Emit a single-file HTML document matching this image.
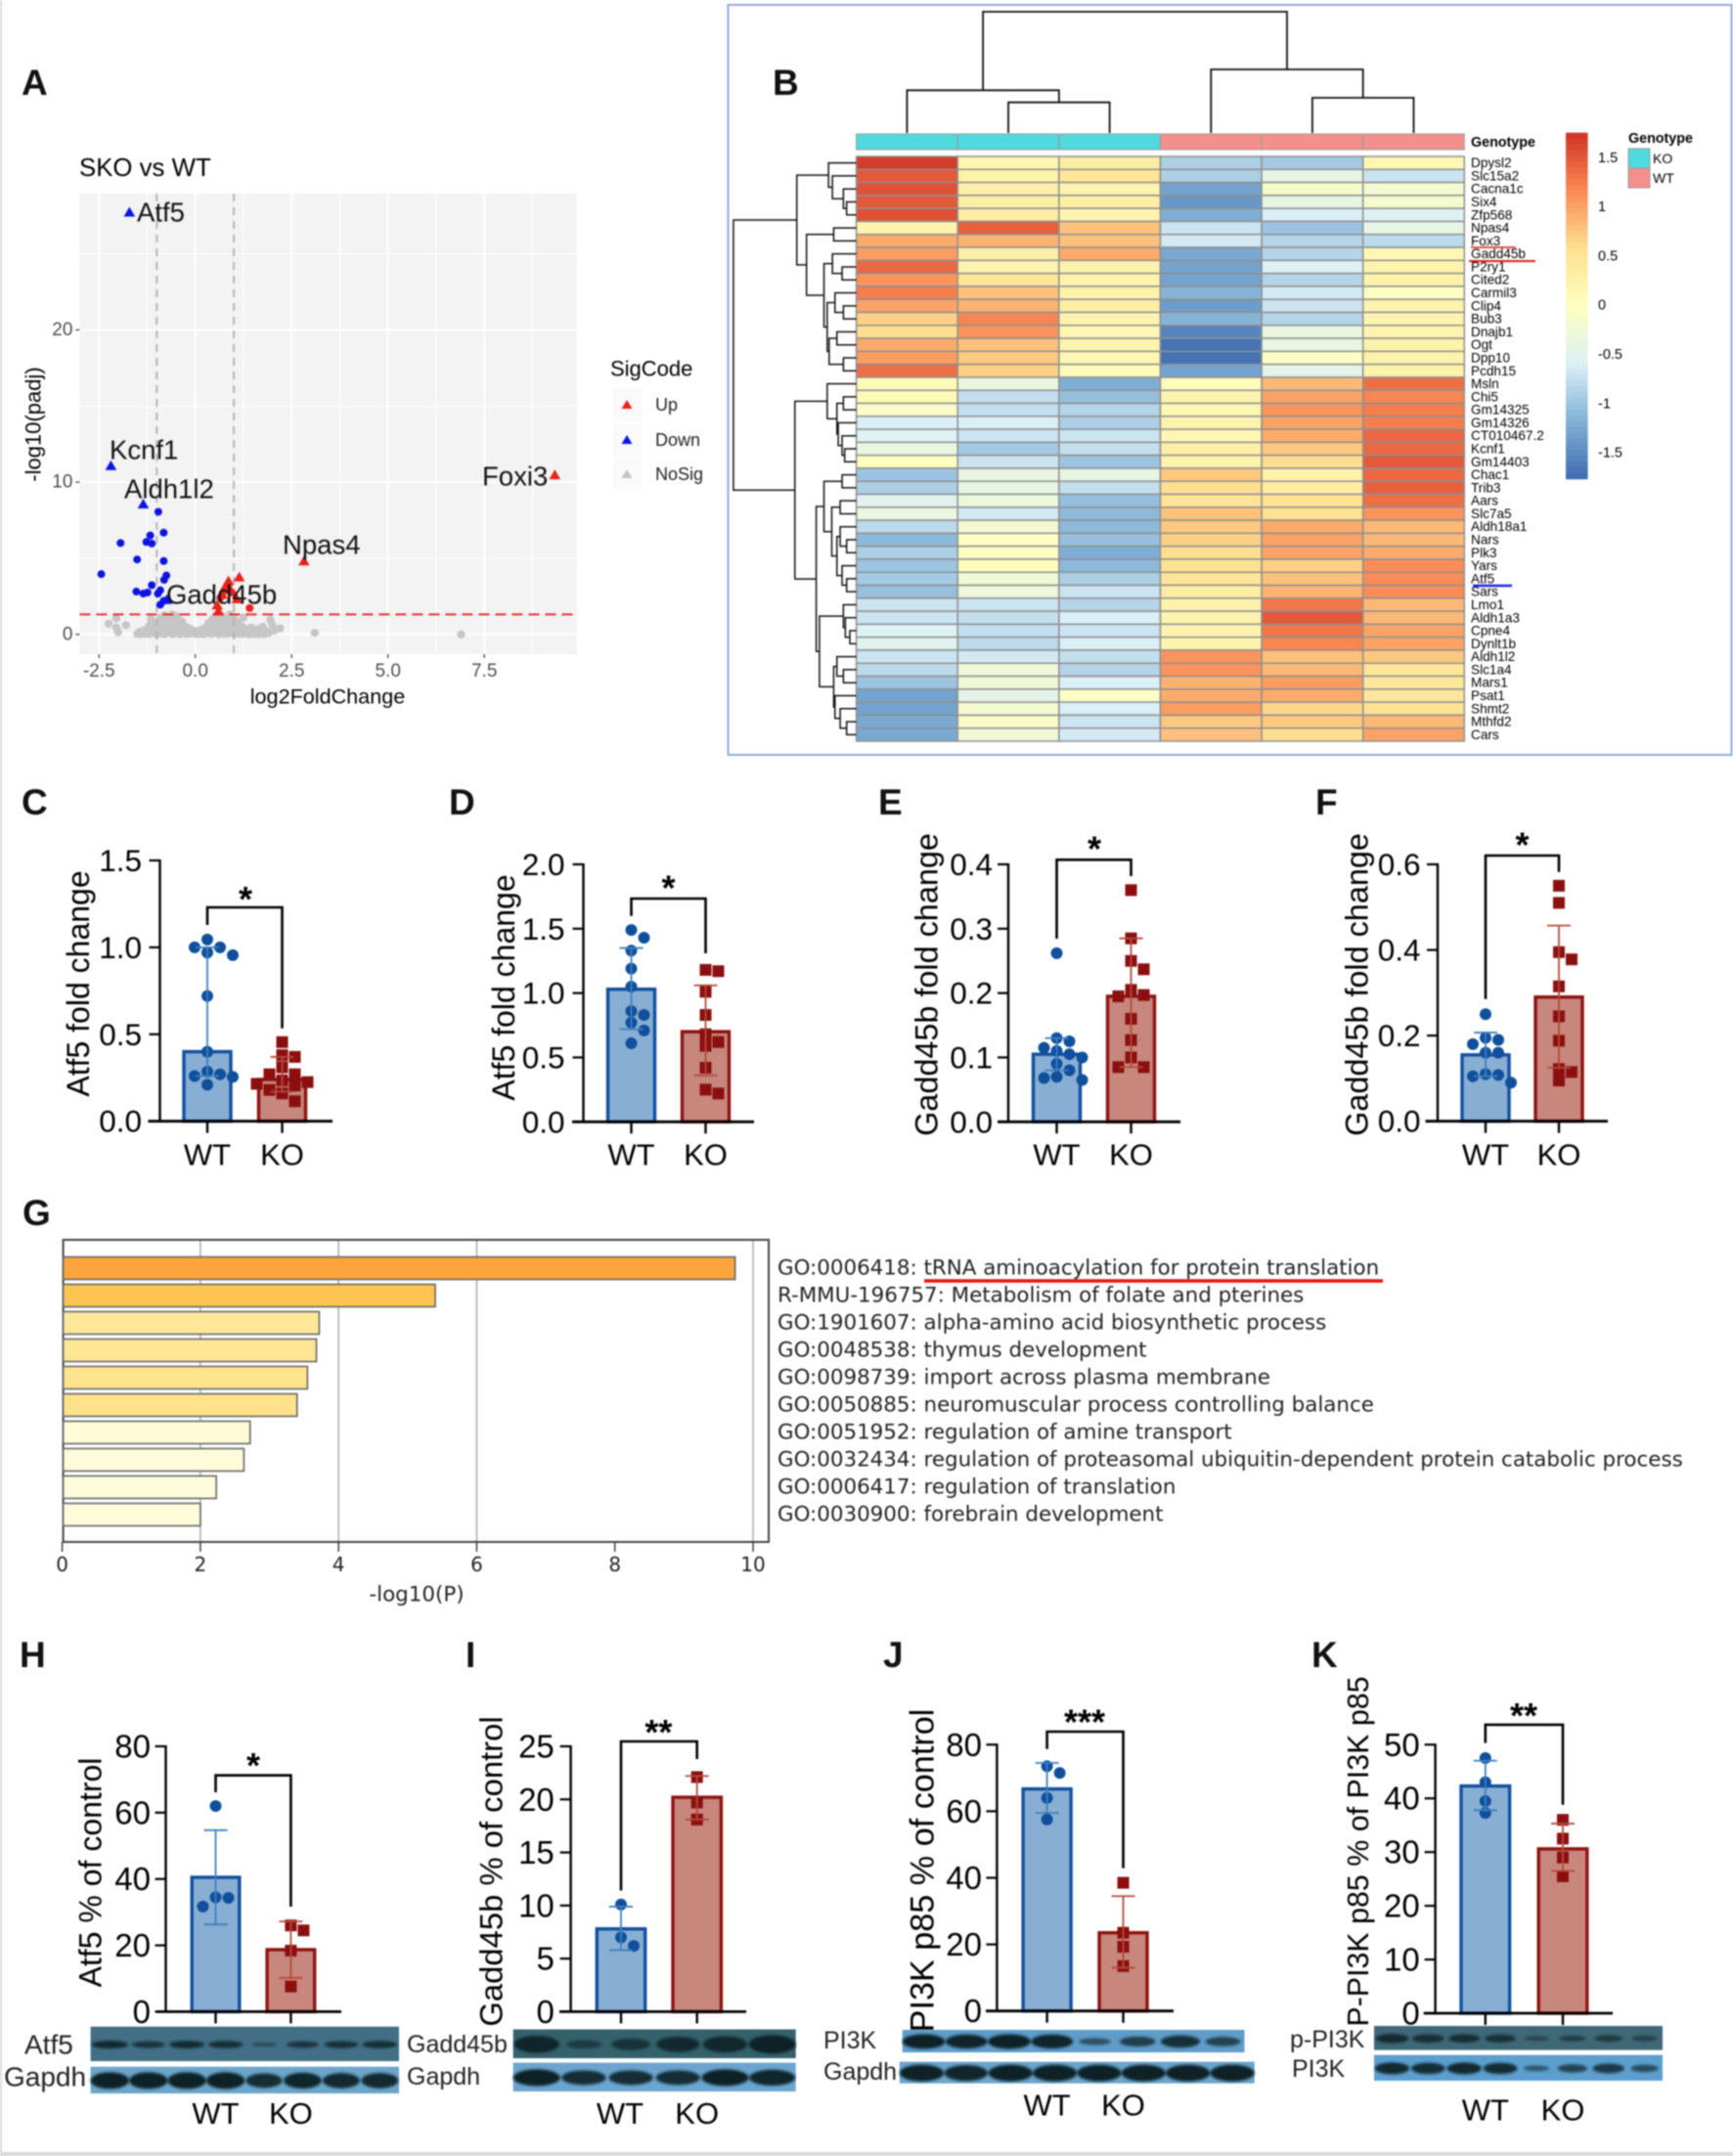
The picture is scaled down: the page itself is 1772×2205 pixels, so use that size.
<!DOCTYPE html>
<html lang="en">
<head>
<meta charset="utf-8">
<title>Atf5 Gadd45b PI3K figure</title>
<style>
html,body{margin:0;padding:0;background:#fff;}
svg{display:block;filter:blur(.7px);}
text{font-family:"Liberation Sans",Arial,sans-serif;fill:#000;}
.letter{font-size:37px;font-weight:700;fill:#111;}
.cat{font-size:31px;text-anchor:middle;dominant-baseline:central;}
.blot{font-size:25px;dominant-baseline:central;fill:#222;}
.gene{font-size:27.5px;dominant-baseline:central;fill:#111;}
.leg{font-size:18px;dominant-baseline:central;fill:#222;}
.go{font-family:"DejaVu Sans",sans-serif;font-size:21.4px;dominant-baseline:central;fill:#222;}
.gotick{font-family:"DejaVu Sans",sans-serif;font-size:20px;text-anchor:middle;dominant-baseline:central;fill:#222;}
</style>
</head>
<body>
<svg id="fig" xmlns="http://www.w3.org/2000/svg" width="1772" height="2205" viewBox="0 0 1772 2205">
<defs><filter id="soft" x="-20%" y="-60%" width="140%" height="220%"><feGaussianBlur stdDeviation="1.4"/></filter></defs>
<rect width="1772" height="2205" fill="#fff"/>
<rect x="0" y="0" width="2" height="2205" fill="#d9d9d9"/>
<rect x="0" y="2201" width="1772" height="4" fill="#d9d9d9"/>

<text class="letter" x="22" y="97">A</text>
<text class="letter" x="790" y="97">B</text>
<text class="letter" x="22" y="833">C</text>
<text class="letter" x="459" y="833">D</text>
<text class="letter" x="898" y="833">E</text>
<text class="letter" x="1345" y="833">F</text>
<text class="letter" x="23" y="1253">G</text>
<text class="letter" x="20" y="1705">H</text>
<text class="letter" x="476" y="1705">I</text>
<text class="letter" x="903" y="1705">J</text>
<text class="letter" x="1341" y="1705">K</text>

<g id="volcano"></g>
<g>
<text x="81" y="172" font-size="25.8" dominant-baseline="central" fill="#111">SKO vs WT</text>
<text class="gene" x="140" y="217">Atf5</text>
<text class="gene" x="112" y="460">Kcnf1</text>
<text class="gene" x="127" y="500">Aldh1l2</text>
<text class="gene" x="493" y="487">Foxi3</text>
<text class="gene" x="289" y="557">Npas4</text>
<text class="gene" x="170" y="608">Gadd45b</text>
<text x="335" y="712" font-size="21.6" text-anchor="middle" dominant-baseline="central" fill="#222">log2FoldChange</text>
<text x="34" y="434" font-size="22" text-anchor="middle" dominant-baseline="central" fill="#222" transform="rotate(-90 34 434)">-log10(padj)</text>
<text x="624" y="377" font-size="22" dominant-baseline="central" fill="#222">SigCode</text>
<rect x="627" y="397" width="30" height="34" fill="#fafafa"/>
<rect x="627" y="433" width="30" height="34" fill="#fafafa"/>
<rect x="627" y="468" width="30" height="34" fill="#fafafa"/>
<polygon points="641,409 646.5,418 635.5,418" fill="#e8231a"/>
<polygon points="641,445 646.5,454 635.5,454" fill="#0d14e0"/>
<polygon points="641,480 646.5,489 635.5,489" fill="#c4c4c4"/>
<text class="leg" x="670" y="414">Up</text>
<text class="leg" x="670" y="450">Down</text>
<text class="leg" x="670" y="485">NoSig</text>
</g>

<rect x="744.5" y="5" width="1026" height="767" fill="none" stroke="#8fa9dc" stroke-width="2"/>
<g id="heatmap"></g>
<g>
<text x="1504" y="146" font-size="14.3" font-weight="700" dominant-baseline="central">Genotype</text>
<text x="1665" y="142" font-size="14.3" font-weight="700" dominant-baseline="central">Genotype</text>
<rect x="1665" y="152" width="22" height="20" fill="#50d9de" stroke="#999"/>
<rect x="1665" y="172" width="22" height="20" fill="#f58f8c" stroke="#999"/>
<text x="1690" y="162" font-size="14" dominant-baseline="central">KO</text>
<text x="1690" y="182" font-size="14" dominant-baseline="central">WT</text>
<line x1="1504" y1="253" x2="1550" y2="253" stroke="#e01a10" stroke-width="1.6"/>
<line x1="1502" y1="267" x2="1570" y2="267" stroke="#e01a10" stroke-width="2"/>
<line x1="1506" y1="599" x2="1546" y2="599" stroke="#1a22e0" stroke-width="2.4"/>
</g>

<g id="bars"></g>
<g id="enrich"></g>
<g id="blots"></g>
<g>
<text class="blot" x="25" y="2091" style="font-size:28px">Atf5</text>
<text class="blot" x="4" y="2124" style="font-size:28px">Gapdh</text>
<text class="cat" x="220.5" y="2161.5">WT</text>
<text class="cat" x="297.4" y="2161.5">KO</text>
<text class="blot" x="416" y="2091">Gadd45b</text>
<text class="blot" x="416" y="2124">Gapdh</text>
<text class="cat" x="634" y="2161.5">WT</text>
<text class="cat" x="712.7" y="2161.5">KO</text>
<text class="blot" x="842" y="2087">PI3K</text>
<text class="blot" x="842" y="2119">Gapdh</text>
<text class="cat" x="1070.6" y="2153">WT</text>
<text class="cat" x="1148.5" y="2153">KO</text>
<text class="blot" x="1319" y="2086">p-PI3K</text>
<text class="blot" x="1321" y="2116">PI3K</text>
<text class="cat" x="1518.8" y="2158">WT</text>
<text class="cat" x="1598" y="2158">KO</text>
</g>
</svg>

<script>
/* ---------- Panel A data ---------- */
const volcanoXTicks = [-2.5, 0, 2.5, 5, 7.5];
const volcanoXTickLabels = ['-2.5', '0.0', '2.5', '5.0', '7.5'];
const volcanoYTicks = [0, 10, 20];
const volcanoYTickLabels = ['0', '10', '20'];
const greyX = [-2.25,-2.05,-2.05,-2.0,-1.8,-1.5,-1.45,-1.4,-1.35,-1.3,-1.25,-1.2,-1.2,-1.15,-1.1,-1.1,-1.05,-1.0,-1.0,-0.95,-0.95,-0.9,-0.9,-0.85,-0.85,-0.8,-0.8,-0.75,-0.75,-0.7,-0.7,-0.65,-0.65,-0.6,-0.6,-0.55,-0.55,-0.5,-0.5,-0.45,-0.45,-0.4,-0.4,-0.35,-0.35,-0.3,-0.3,-0.25,-0.25,-0.2,-0.15,-0.15,-0.1,-0.05,0,0,0.05,0.1,0.1,0.15,0.2,0.2,0.25,0.3,0.3,0.35,0.35,0.4,0.4,0.45,0.45,0.5,0.5,0.55,0.55,0.6,0.6,0.65,0.7,0.7,0.75,0.75,0.8,0.85,0.85,0.9,0.9,0.95,1.0,1.0,1.05,1.05,1.1,1.15,1.15,1.2,1.25,1.25,1.3,1.35,1.4,1.45,1.5,1.6,1.7,1.75,1.85,1.95,2.0,2.05,2.2,3.1,6.9,-1.5,-1.4,-1.2,-1.0,-0.8,-0.6,-0.4,-0.2,0.02,0.22,0.42,0.62,0.82,1.02,1.22,1.42,1.55,1.65,1.8,-1.3,-1.1,-0.9,-0.7,-0.5,-0.3,0.32,0.52,0.72,0.92,1.12,1.32,1.5,1.62,1.72,1.9];
const greyY = [0.7,1.05,0.45,0.15,0.6,0.05,0.15,0.1,0.25,0.05,0.3,0.1,0.55,1.0,0.2,0.45,0.05,0.35,0.75,0.15,0.55,1.1,0.05,0.3,0.8,0.5,1.25,0.1,0.7,0.3,1.05,0.55,0.15,0.85,1.3,0.4,0.05,0.7,1.2,0.25,1.0,0.5,0.1,0.85,0.3,0.15,0.6,0.35,0.05,0.45,0.2,0.05,0.3,0.1,0.2,0.05,0.1,0.25,0.05,0.15,0.05,0.35,0.2,0.5,0.1,0.3,0.75,0.05,0.5,0.2,1.0,0.7,0.35,0.1,1.25,0.5,0.9,0.25,1.2,0.7,0.05,0.4,0.95,0.2,0.6,1.3,0.1,0.75,0.35,1.05,0.15,0.55,0.8,0.3,0.05,0.55,0.15,1.1,0.35,0.05,0.2,0.45,0.1,0.3,0.1,0.5,0.2,0.95,0.6,0.25,0.4,0.1,0,0.02,0.03,0.02,0.04,0.02,0.03,0.02,0.04,0.03,0.02,0.03,0.02,0.04,0.02,0.03,0.02,0.03,0.02,0.02,0.22,0.25,0.2,0.22,0.2,0.25,0.22,0.2,0.25,0.22,0.25,0.2,0.3,0.35,0.3,0.1];
const downCircleX = [-0.96,-0.82,-1.17,-1.94,-1.27,-1.13,-1.51,-0.82,-2.44,-0.75,-0.81,-1.13,-0.91,-1.53,-1.35,-1.24,-0.97,-0.82,-0.91];
const downCircleY = [8.05,6.68,6.5,6.0,6.07,5.97,4.92,4.82,3.96,3.87,3.58,3.23,2.9,2.81,2.68,2.75,2.68,2.2,1.95];
const downTriangleX = [-1.71,-2.19,-1.35,-0.74];
const downTriangleY = [27.7,11.05,8.53,2.25];
const upTriangleX = [9.33,2.82,1.14,0.86,0.8,0.7,0.57,1.08,0.6,0.9];
const upTriangleY = [10.45,4.79,3.74,3.48,3.2,2.6,1.89,2.3,1.5,2.95];
const upCircleX = [1.41,0.75,0.65,0.85,0.95];
const upCircleY = [1.73,2.85,2.4,3.1,2.75];

/* ---------- Panel B data ---------- */
const heatmapGenes = ['Dpysl2','Slc15a2','Cacna1c','Six4','Zfp568','Npas4','Fox3','Gadd45b','P2ry1','Cited2','Carmil3','Clip4','Bub3','Dnajb1','Ogt','Dpp10','Pcdh15','Msln','Chi5','Gm14325','Gm14326','CT010467.2','Kcnf1','Gm14403','Chac1','Trib3','Aars','Slc7a5','Aldh18a1','Nars','Plk3','Yars','Atf5','Sars','Lmo1','Aldh1a3','Cpne4','Dynlt1b','Aldh1l2','Slc1a4','Mars1','Psat1','Shmt2','Mthfd2','Cars'];
const heatmapGenotypes = ['KO','KO','KO','WT','WT','WT'];
const heatmapValues = [
[1.7,0.15,0.35,-0.9,-0.95,0.15],[1.5,0.25,0.5,-0.9,-0.4,-0.7],[1.55,0.3,0.2,-1.3,-0.15,-0.2],[1.5,0.3,0.3,-1.4,-0.4,-0.15],[1.55,0.35,0.2,-1.2,-0.6,-0.55],
[0.2,1.45,0.8,-0.7,-1.0,-0.4],[0.95,0.9,0.8,-0.65,-0.85,-0.8],[1.05,0.3,0.95,-1.25,-0.85,0.15],[1.4,0.2,0.2,-1.3,-0.55,0.2],[1.1,0.5,0.2,-1.3,-0.85,0.25],
[1.25,0.8,0.25,-1.15,-0.65,-0.05],[1.0,0.9,0.3,-1.35,-0.7,0.2],[0.7,1.2,0.2,-1.15,-0.85,0.2],[0.6,1.1,0.15,-1.55,-0.35,0.2],[0.95,0.8,0.2,-1.7,-0.35,0.25],[1.05,0.75,0.15,-1.7,-0.05,0.25],[1.35,0.7,0.05,-1.3,-0.45,0.25],
[0.1,-0.35,-1.2,0.05,0.85,1.35],[0.1,-0.75,-1.05,0.2,1.0,1.2],[-0.1,-0.75,-0.85,0.15,1.1,1.25],[-0.6,-0.6,-0.9,0.2,1.0,1.25],[-0.55,-0.7,-0.7,0.15,0.95,1.4],[-0.35,-0.95,-0.75,0.3,0.75,1.4],[0,-0.7,-1.0,0.25,0.6,1.5],
[-1.0,-0.4,-0.4,0.75,0.25,1.4],[-0.9,-0.4,-0.75,0.6,0.35,1.45],[-0.5,-0.3,-1.05,0.5,0.55,1.35],[-0.35,-0.65,-1.1,0.8,0.55,1.1],[-0.8,-0.2,-1.1,0.75,0.95,0.85],[-1.1,-0.05,-1.05,0.7,1.0,0.85],[-0.9,-0.05,-1.2,0.6,1.0,0.95],[-1.0,0.05,-1.1,0.55,0.7,1.15],[-0.95,-0.25,-0.9,0.5,0.8,1.15],[-1.05,-0.3,-0.7,0.35,0.9,1.15],
[-0.7,-0.7,-0.85,0.25,1.3,0.85],[-0.7,-0.75,-0.6,0.2,1.5,0.85],[-0.55,-0.75,-0.7,0.2,1.3,1.0],[-0.5,-0.8,-0.6,0.2,1.2,1.0],[-0.7,-0.65,-0.75,1.1,0.8,0.75],[-0.8,-0.25,-0.85,1.1,0.85,0.5],[-1.0,-0.25,-0.6,0.9,1.05,0.45],[-1.3,-0.45,-0.05,0.95,0.95,0.45],[-1.3,-0.2,-0.6,1.05,0.65,0.55],[-1.25,-0.1,-0.7,0.75,0.75,0.85],[-1.25,-0.25,-0.65,0.8,0.6,1.0]
];
const colorbarTicks = [1.5,1,0.5,0,-0.5,-1,-1.5];
const colorbarTickLabels = ['1.5','1','0.5','0','-0.5','-1','-1.5'];
/* merge trees: [merge distance, child, child], leaves are row / column indices */
const rowTree = [190,
  [92,[43,0,[37,1,[20,2,[15,3,4]]]],
      [77,[35,5,6],[50,[37,7,[22,8,9]],[45,[33,10,[20,11,12]],[42,[30,13,14],[20,15,16]]]]]],
  [95,[45,17,[30,[20,18,19],[28,20,[22,21,[18,22,23]]]]],
      [62,[50,[22,24,25],[38,[25,26,27],[30,[25,28,[15,29,30]],[22,31,[15,32,33]]]]],
          [57,[20,34,[17,35,[10,36,37]]],[35,[30,38,[20,39,40]],[33,41,[25,42,[15,43,44]]]]]]]];
const columnTree = [372,[131,0,[94,1,2]],[195,3,[108,4,5]]];

/* ---------- Bar panel data ---------- */
const barCategories = ['WT','KO'];
const cTicks=[0,0.5,1,1.5];
const cTickLabels=['0.0','0.5','1.0','1.5'];
const cWtValues=[1.045,1.0,1.0,0.97,0.955,0.72,0.4,0.285,0.27,0.26,0.255,0.21];
const cKoValues=[0.455,0.38,0.37,0.31,0.27,0.27,0.235,0.225,0.215,0.205,0.18,0.16,0.115];
const cMeans=[0.4,0.24];
const cErrHigh=[1.0,0.37];
const cErrLow=[0.26,0.17];

const dTicks=[0,0.5,1,1.5,2];
const dTickLabels=['0.0','0.5','1.0','1.5','2.0'];
const dWtValues=[1.49,1.43,1.33,1.19,1.05,0.86,0.83,0.77,0.71,0.61];
const dKoValues=[1.18,1.17,1.01,0.83,0.68,0.62,0.59,0.42,0.25,0.22];
const dMeans=[1.03,0.7];
const dErrHigh=[1.35,1.06];
const dErrLow=[0.72,0.36];

const eTicks=[0,0.1,0.2,0.3,0.4];
const eTickLabels=['0.0','0.1','0.2','0.3','0.4'];
const eWtValues=[0.262,0.13,0.125,0.115,0.11,0.105,0.1,0.09,0.08,0.07,0.068,0.065];
const eKoValues=[0.36,0.285,0.25,0.237,0.205,0.197,0.195,0.16,0.127,0.1,0.085,0.085];
const eMeans=[0.105,0.195];
const eErrHigh=[0.13,0.285];
const eErrLow=[0.08,0.085];

const fTicks=[0,0.2,0.4,0.6];
const fTickLabels=['0.0','0.2','0.4','0.6'];
const fWtValues=[0.25,0.195,0.19,0.18,0.16,0.16,0.11,0.108,0.105,0.09];
const fKoValues=[0.55,0.51,0.395,0.378,0.315,0.245,0.188,0.122,0.115,0.095];
const fMeans=[0.155,0.29];
const fErrHigh=[0.207,0.457];
const fErrLow=[0.105,0.125];

const hTicks=[0,20,40,60,80];
const hTickLabels=['0','20','40','60','80'];
const hWtValues=[62,34.5,34.3,31.7];
const hKoValues=[26,24.5,18.4,7.6];
const hMeans=[40.5,18.7];
const hErrHigh=[54.7,27.2];
const hErrLow=[26.3,10.2];

const iTicks=[0,5,10,15,20,25];
const iTickLabels=['0','5','10','15','20','25'];
const iWtValues=[10.1,7,6.2];
const iKoValues=[22.1,19.7,18.1];
const iMeans=[7.8,20.2];
const iErrHigh=[9.9,22.2];
const iErrLow=[5.8,18.1];

const jTicks=[0,20,40,60,80];
const jTickLabels=['0','20','40','60','80'];
const jWtValues=[73.5,71.5,64,57.5];
const jKoValues=[38.5,23.5,19.3,13.5];
const jMeans=[66.7,23.5];
const jErrHigh=[74.5,34.5];
const jErrLow=[59.5,13];

const kTicks=[0,10,20,30,40,50];
const kTickLabels=['0','10','20','30','40','50'];
const kWtValues=[47.5,43,39.5,37.3];
const kKoValues=[36,32.5,29,25.5];
const kMeans=[42.3,30.6];
const kErrHigh=[47,35.3];
const kErrLow=[37.8,26.5];

/* ---------- Panel G data ---------- */
const goTerms = ['GO:0006418: tRNA aminoacylation for protein translation','R-MMU-196757: Metabolism of folate and pterines','GO:1901607: alpha-amino acid biosynthetic process','GO:0048538: thymus development','GO:0098739: import across plasma membrane','GO:0050885: neuromuscular process controlling balance','GO:0051952: regulation of amine transport','GO:0032434: regulation of proteasomal ubiquitin-dependent protein catabolic process','GO:0006417: regulation of translation','GO:0030900: forebrain development'];
const goValues = [9.74,5.4,3.72,3.68,3.55,3.4,2.72,2.63,2.23,2.0];
const goTicks = [0,2,4,6,8,10];
const goGridTicks = [2,4,6,10];

/* ---------- Blot band strengths ---------- */
const blotHTop=[0.85,0.65,0.8,0.75,0.15,0.6,0.7,0.75];
const blotHBottom=[1,1,1,1,0.85,0.95,0.9,0.9];
const blotITop=[0.9,0.35,0.55,0.8,0.85,1];
const blotIBottom=[1,0.85,0.85,0.85,1,0.95];
const blotJTop=[1,0.95,1,0.95,0.35,0.6,0.8,0.55];
const blotJBottom=[1,0.95,1,1,1,1,1,1];
const blotKTop=[0.8,0.7,0.7,0.65,0.2,0.35,0.45,0.3];
const blotKBottom=[0.9,0.85,0.9,0.85,0.3,0.55,0.7,0.45];

/* ---------- Helpers ---------- */
const NS = 'http://www.w3.org/2000/svg';
function mk(tag, parent, attrs, content) {
  const el = document.createElementNS(NS, tag);
  for (const k in attrs) el.setAttribute(k, attrs[k]);
  if (content !== undefined) el.textContent = content;
  parent.appendChild(el);
  return el;
}

/* ---------- Panel A ---------- */
(function drawVolcano() {
  const root = document.getElementById('volcano');
  const left = 81.4, right = 590, top = 198, bottom = 669;
  const vx = v => 199.7 + 39.4 * v;
  const vy = v => 648.8 - 15.57 * v;
  const bg = mk('rect', root, {x:left, y:top, width:right-left, height:bottom-top, fill:'#f3f3f3'});
  
  
  [-1.25,1.25,3.75,6.25,8.75].forEach(v => {
    const l = mk('line', root, {x1:vx(v), x2:vx(v), y1:top, y2:bottom, stroke:'#fff', 'stroke-width':1});
    
    
  });
  [5,15,25].forEach(v => {
    const l = mk('line', root, {x1:left, x2:right, y1:vy(v), y2:vy(v), stroke:'#fff', 'stroke-width':1});
    
    
  });
  volcanoXTicks.forEach((v, i) => {
    const g = mk('line', root, {x1:vx(v), x2:vx(v), y1:top, y2:bottom, stroke:'#fff', 'stroke-width':2});
    
    
    const t = mk('line', root, {x1:vx(v), x2:vx(v), y1:bottom, y2:bottom+4, stroke:'#333', 'stroke-width':1.2});
    
    
    const s = mk('text', root, {x:vx(v), y:686.6, 'font-size':19, 'text-anchor':'middle', 'dominant-baseline':'central', style:'fill:#4d4d4d'}, volcanoXTickLabels[i]);
    
    
  });
  volcanoYTicks.forEach((v, i) => {
    const g = mk('line', root, {x1:left, x2:right, y1:vy(v), y2:vy(v), stroke:'#fff', 'stroke-width':2});
    
    
    const t = mk('line', root, {x1:left-4, x2:left, y1:vy(v), y2:vy(v), stroke:'#333', 'stroke-width':1.2});
    
    
    const s = mk('text', root, {x:left-7, y:vy(v), 'font-size':19, 'text-anchor':'end', 'dominant-baseline':'central', style:'fill:#4d4d4d'}, volcanoYTickLabels[i]);
    
    
  });
  greyX.forEach((v, i) => {
    const c = mk('circle', root, {cx:vx(v), cy:vy(greyY[i]), r:4.2, fill:'#c6c6c6'});
    
    
  });
  [-1,1].forEach(v => {
    const l = mk('line', root, {x1:vx(v), x2:vx(v), y1:top, y2:bottom, stroke:'#b5b5b5', 'stroke-width':2, 'stroke-dasharray':'8 6'});
    
    
  });
  const hl = mk('line', root, {x1:left, x2:right, y1:vy(1.31), y2:vy(1.31), stroke:'#e0312a', 'stroke-width':2, 'stroke-dasharray':'11 6'});
  
  
  downCircleX.forEach((v, i) => {
    const c = mk('circle', root, {cx:vx(v), cy:vy(downCircleY[i]), r:4, fill:'#0d14e0'});
    
    
  });
  upCircleX.forEach((v, i) => {
    const c = mk('circle', root, {cx:vx(v), cy:vy(upCircleY[i]), r:4, fill:'#e8231a'});
    
    
  });
  const tri = (x, y) => `${x},${y-6} ${x+5.8},${y+4} ${x-5.8},${y+4}`;
  downTriangleX.forEach((v, i) => {
    const p = mk('polygon', root, {points:tri(vx(v), vy(downTriangleY[i])), fill:'#0d14e0'});
    
    
  });
  upTriangleX.forEach((v, i) => {
    const p = mk('polygon', root, {points:tri(vx(v), vy(upTriangleY[i])), fill:'#e8231a'});
    
    
  });
})();

/* ---------- Panel B ---------- */
(function drawHeatmap() {
  const root = document.getElementById('heatmap');
  const stops = [[-1.76,[62,108,176]],[-1.17,[130,178,214]],[-0.59,[220,240,247]],[0,[255,255,191]],[0.59,[254,224,144]],[1.17,[250,138,85]],[1.76,[208,50,36]]];
  function colour(v) {
    const c = Math.max(-1.76, Math.min(1.76, v));
    for (let i = 0; i < stops.length - 1; i++) {
      if (c <= stops[i+1][0]) {
        const t = (c - stops[i][0]) / (stops[i+1][0] - stops[i][0]);
        const rgb = stops[i][1].map((a, k) => Math.round(a + (stops[i+1][1][k] - a) * t));
        return `rgb(${rgb[0]},${rgb[1]},${rgb[2]})`;
      }
    }
    return 'rgb(208,50,36)';
  }
  const x0 = 875.6, colW = (1497.3 - 875.6) / 6, y0 = 160, rowH = (758 - 160) / heatmapGenes.length;
  const colCenter = c => x0 + (c + 0.5) * colW;
  const rowCenter = r => y0 + (r + 0.5) * rowH;

  heatmapGenotypes.forEach((g, c) => {
    const r = mk('rect', root, {x:x0 + c * colW, y:137, width:colW, height:16, fill:g === 'KO' ? '#50d9de' : '#f58f8c', stroke:'#999', 'stroke-width':1});
    
    
  });
  heatmapValues.forEach((row, r) => {
    row.forEach((v, c) => {
      const cell = mk('rect', root, {x:x0 + c * colW, y:y0 + r * rowH, width:colW, height:rowH, fill:colour(v), stroke:'#8f8f8f', 'stroke-width':1.5});
      
      
    });
    const lab = mk('text', root, {x:1504, y:rowCenter(r), 'font-size':13.6, 'dominant-baseline':'central'}, heatmapGenes[r]);
    
    
  });

  function drawRowTree(node) {
    if (typeof node === 'number') return {x:x0, y:rowCenter(node)};
    const a = drawRowTree(node[1]), b = drawRowTree(node[2]);
    const x = x0 - node[0] / 1.512;
    const p = mk('path', root, {d:`M${a.x} ${a.y}H${x}V${b.y}H${b.x}`, fill:'none', stroke:'#111', 'stroke-width':1.5});
    
    
    return {x:x, y:(a.y + b.y) / 2};
  }
  drawRowTree(rowTree);

  function drawColTree(node) {
    if (typeof node === 'number') return {x:colCenter(node), y:136};
    const a = drawColTree(node[1]), b = drawColTree(node[2]);
    const y = 136 - node[0] / 3;
    const p = mk('path', root, {d:`M${a.x} ${a.y}V${y}H${b.x}V${b.y}`, fill:'none', stroke:'#111', 'stroke-width':1.8});
    
    
    return {x:(a.x + b.x) / 2, y:y};
  }
  drawColTree(columnTree);

  const cbY = v => 312.7 - 100.6 * v;
  for (let i = 0; i < 60; i++) {
    const vTop = 1.76 - i * (3.52 / 60);
    const s = mk('rect', root, {x:1601, y:cbY(vTop), width:22.6, height:100.6 * 3.52 / 60 + 0.5, fill:colour(vTop - 0.03)});
    
    
  }
  colorbarTicks.forEach((v, i) => {
    const t = mk('text', root, {x:1634, y:cbY(v), 'font-size':14.5, 'dominant-baseline':'central'}, colorbarTickLabels[i]);
    
    
  });
})();

/* ---------- Bar panels C-F, H-K ---------- */
function swarm(values, scale, r) {
  const placed = [];
  const step = 2 * r + 1;
  values.forEach(v => {
    const y = scale(v);
    const candidates = [0, 1, -1, 2, -2, 3, -3];
    let off = 0;
    for (const k of candidates) {
      const o = k * step;
      if (placed.every(q => Math.hypot(q.o - o, q.y - y) >= 2 * r * 0.85)) { off = o; break; }
    }
    placed.push({o:off, y:y});
  });
  return placed;
}

function drawBarPanel(id, g, ticks, tickLabels, wt, ko, means, errHigh, errLow) {
  const root = mk('g', document.getElementById('bars'), {});
  
  
  const maxTick = ticks[ticks.length - 1];
  const sy = v => g.y0 - (v / maxTick) * (g.y0 - g.yTop);
  const cx = [g.wtX, g.koX];
  const fill = ['#88aed3', '#c7877d'];
  const edge = ['#114f9f', '#8e1212'];
  const errC = ['#3f7fc0', '#b34a3c'];
  const dot = ['#0f4f9c', '#8b0f0f'];
  const series = [wt, ko];

  barCategories.forEach((cat, i) => {
    const b = mk('rect', root, {x:cx[i] - g.half, y:sy(means[i]), width:2 * g.half, height:g.y0 - sy(means[i]), fill:fill[i], stroke:edge[i], 'stroke-width':3.4});
    
    
  });
  barCategories.forEach((cat, i) => {
    swarm(series[i], sy, g.r).forEach(p => {
      let m;
      if (i === 0) {
        m = mk('circle', root, {cx:cx[i] + p.o, cy:p.y, r:g.r, fill:dot[i]});
      } else {
        m = mk('rect', root, {x:cx[i] + p.o - g.r, y:p.y - g.r, width:2 * g.r, height:2 * g.r, fill:dot[i]});
      }
      
      
    });
    const e = mk('path', root, {d:`M${cx[i]} ${sy(errHigh[i])}V${sy(errLow[i])}M${cx[i]-12} ${sy(errHigh[i])}h24M${cx[i]-12} ${sy(errLow[i])}h24`, fill:'none', stroke:errC[i], 'stroke-width':1.8});
    
    
    const tick = mk('line', root, {x1:cx[i], x2:cx[i], y1:g.y0, y2:g.y0 + 12, stroke:'#000', 'stroke-width':2.4});
    
    
    if (g.catY) {
      const c = mk('text', root, {x:cx[i], y:g.catY, class:'cat'}, cat);
      
      
    }
  });
  const ya = mk('line', root, {x1:g.axisX, x2:g.axisX, y1:g.yTop - 1, y2:g.y0, stroke:'#000', 'stroke-width':2.4});
  
  
  const xa = mk('line', root, {x1:g.lineX1, x2:g.lineX2, y1:g.y0, y2:g.y0, stroke:'#000', 'stroke-width':2.8});
  
  
  ticks.forEach((v, i) => {
    const t = mk('line', root, {x1:g.axisX - 11, x2:g.axisX, y1:sy(v), y2:sy(v), stroke:'#000', 'stroke-width':2.2});
    
    
    const s = mk('text', root, {x:g.labRight, y:sy(v), 'font-size':g.tickSize, 'text-anchor':'end', 'dominant-baseline':'central'}, tickLabels[i]);
    
    
  });
  const yl = mk('text', root, {x:g.ylabX, y:g.ylabY, 'font-size':g.ylabSize, 'text-anchor':'middle', 'dominant-baseline':'central', transform:`rotate(-90 ${g.ylabX} ${g.ylabY})`}, g.ylab);
  
  
  const br = mk('path', root, {d:`M${g.wtX} ${g.brL}V${g.brTop}H${g.koX}V${g.brR}`, fill:'none', stroke:'#000', 'stroke-width':2.6});
  
  
  const st = mk('text', root, {x:g.starX, y:g.starY + 20, 'font-size':36, 'font-weight':700, 'text-anchor':'middle'}, g.stars);
  
  
}

drawBarPanel('c', {axisX:163.5,y0:1146.7,yTop:880,lineX1:151.5,lineX2:340,wtX:212,koX:288.5,half:24,r:6,brTop:928,brL:946,brR:1051.7,starX:251,starY:912,stars:'*',labRight:145,tickSize:31.5,ylabX:80,ylabY:1006,ylabSize:32,ylab:'Atf5 fold change',catY:1181}, cTicks,cTickLabels,cWtValues,cKoValues,cMeans,cErrHigh,cErrLow);
drawBarPanel('d', {axisX:596.5,y0:1147.3,yTop:884,lineX1:585,lineX2:771,wtX:645.5,koX:721.5,half:24,r:6,brTop:919,brL:936.7,brR:975,starX:683.5,starY:900.6,stars:'*',labRight:577.5,tickSize:31.5,ylabX:515,ylabY:1010,ylabSize:32,ylab:'Atf5 fold change',catY:1181}, dTicks,dTickLabels,dWtValues,dKoValues,dMeans,dErrHigh,dErrLow);
drawBarPanel('e', {axisX:1031,y0:1147.3,yTop:884,lineX1:1020,lineX2:1207,wtX:1080.5,koX:1156.5,half:24,r:6,brTop:879.3,brL:960,brR:896,starX:1119,starY:860.7,stars:'*',labRight:1015,tickSize:31.5,ylabX:947.5,ylabY:1007,ylabSize:32.4,ylab:'Gadd45b fold change',catY:1181}, eTicks,eTickLabels,eWtValues,eKoValues,eMeans,eErrHigh,eErrLow);
drawBarPanel('f', {axisX:1470,y0:1146.7,yTop:884,lineX1:1457.5,lineX2:1644,wtX:1519,koX:1594,half:24,r:6,brTop:875,brL:1021.7,brR:891.7,starX:1556.5,starY:856.7,stars:'*',labRight:1452.5,tickSize:31.5,ylabX:1387.5,ylabY:1007,ylabSize:32.4,ylab:'Gadd45b fold change',catY:1181}, fTicks,fTickLabels,fWtValues,fKoValues,fMeans,fErrHigh,fErrLow);
drawBarPanel('h', {axisX:169.5,y0:2057.4,yTop:1786,lineX1:160,lineX2:349,wtX:220.5,koX:297.4,half:24.3,r:6,brTop:1815.7,brL:1833,brR:1950,starX:259,starY:1798,stars:'*',labRight:154,tickSize:33,ylabX:92.6,ylabY:1915,ylabSize:32,ylab:'Atf5 % of control'}, hTicks,hTickLabels,hWtValues,hKoValues,hMeans,hErrHigh,hErrLow);
drawBarPanel('i', {axisX:583.6,y0:2057.4,yTop:1786,lineX1:572,lineX2:763,wtX:635,koX:712.7,half:24.7,r:6,brTop:1781,brL:1933.5,brR:1799,starX:673.4,starY:1764,stars:'**',labRight:566.8,tickSize:33,ylabX:502,ylabY:1914,ylabSize:32.8,ylab:'Gadd45b % of control'}, iTicks,iTickLabels,iWtValues,iKoValues,iMeans,iErrHigh,iErrLow);
drawBarPanel('j', {axisX:1019.4,y0:2056.7,yTop:1784.3,lineX1:1008,lineX2:1200,wtX:1070.6,koX:1148.5,half:24.5,r:6,brTop:1771,brL:1788.8,brR:1910.6,starX:1109,starY:1753.6,stars:'***',labRight:1004,tickSize:33,ylabX:943.7,ylabY:1913,ylabSize:34.2,ylab:'PI3K p85 % of control'}, jTicks,jTickLabels,jWtValues,jKoValues,jMeans,jErrHigh,jErrLow);
drawBarPanel('k', {axisX:1467.6,y0:2059,yTop:1784.3,lineX1:1455.7,lineX2:1649,wtX:1518.8,koX:1598,half:24.8,r:6,brTop:1763.9,brL:1782.6,brR:1845.8,starX:1558,starY:1746.8,stars:'**',labRight:1451.7,tickSize:33,ylabX:1389,ylabY:1893.5,ylabSize:30.4,ylab:'P-PI3K p85 % of PI3K p85'}, kTicks,kTickLabels,kWtValues,kKoValues,kMeans,kErrHigh,kErrLow);

/* ---------- Panel G ---------- */
(function drawEnrichment() {
  const root = document.getElementById('enrich');
  const ex = v => 63.6 + 70.64 * v;
  const left = 64.6, right = 786, top = 1268, bottom = 1577;
  goGridTicks.forEach(v => {
    const l = mk('line', root, {x1:ex(v), x2:ex(v), y1:top, y2:bottom, stroke:'#b0b0b0', 'stroke-width':1.6});
    
    
  });
  const box = mk('rect', root, {x:left, y:top, width:right-left, height:bottom-top, fill:'none', stroke:'#444', 'stroke-width':2});
  
  
  const fills = ['#fda43c','#fec451','#ffe79a','#ffe695','#ffe48e','#ffe28a','#fffbd9','#fffbd9','#fffcdc','#fffcdc'];
  goValues.forEach((v, i) => {
    const y = 1285.5 + i * 28;
    const b = mk('rect', root, {x:left, y:y, width:ex(v) - left, height:23, fill:fills[i], stroke:'#666', 'stroke-width':1.6});
    
    
    const t = mk('text', root, {x:795, y:y + 11.5, class:'go'}, goTerms[i]);
    
    
  });
  const ul = mk('line', root, {x1:945, x2:1414, y1:1310, y2:1310, stroke:'#e2140c', 'stroke-width':3.4});
  
  
  goTicks.forEach(v => {
    const t = mk('line', root, {x1:ex(v), x2:ex(v), y1:bottom, y2:bottom + 10, stroke:'#333', 'stroke-width':1.4});
    
    
    const s = mk('text', root, {x:ex(v), y:1600, class:'gotick'}, String(v));
    
    
  });
  const xl = mk('text', root, {x:426, y:1631, class:'gotick', style:'font-size:21.4px'}, '-log10(P)');
  
  
})();

/* ---------- Western blots ---------- */
function drawBlot(name, x, y, w, h, bg, strengths, thickness) {
  const root = document.getElementById('blots');
  const r = mk('rect', root, {x:x, y:y, width:w, height:h, fill:bg});
  
  
  const lane = w / strengths.length;
  strengths.forEach((s, i) => {
    const band = mk('ellipse', root, {cx:x + (i + 0.5) * lane, cy:y + h * 0.52, rx:lane * (0.3 + 0.2 * s), ry:1.5 + thickness * s, fill:'#0e2427', opacity:0.4 + 0.6 * s, filter:'url(#soft)'});
    
    
  });
}
drawBlot('blot-h-atf5', 92.6, 2072.7, 315.4, 35.3, '#426f86', blotHTop, 3);
drawBlot('blot-h-gapdh', 92.6, 2113.7, 315.4, 27.3, '#6ba5c9', blotHBottom, 7);
drawBlot('blot-i-gadd45b', 524.7, 2075.5, 289, 29.5, '#34616c', blotITop, 8);
drawBlot('blot-i-gapdh', 524.7, 2109.6, 289, 29.4, '#6ba5cf', blotIBottom, 7);
drawBlot('blot-j-pi3k', 922.7, 2076, 349.8, 23, '#5f9cc8', blotJTop, 6);
drawBlot('blot-j-gapdh', 919.8, 2108.6, 362.9, 22.1, '#6aa5cc', blotJBottom, 7);
drawBlot('blot-k-ppi3k', 1405, 2072, 295, 24.6, '#3f6876', blotKTop, 4);
drawBlot('blot-k-pi3k', 1405, 2101.7, 295, 26.3, '#5c9fcf', blotKBottom, 5);
</script>
</body>
</html>
